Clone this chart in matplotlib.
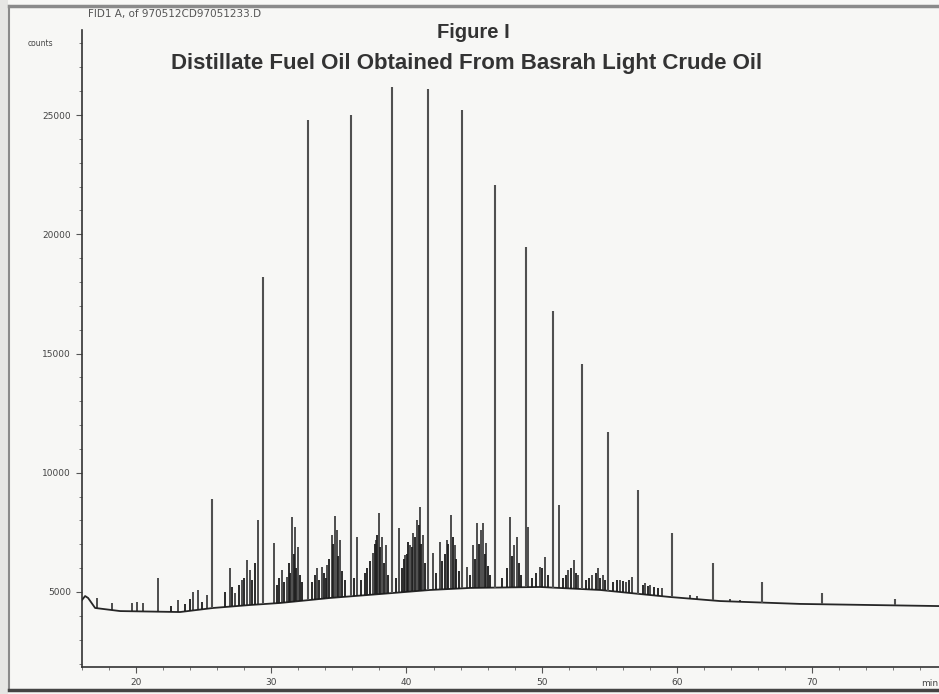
import numpy as np
import matplotlib
matplotlib.use("Agg")
import matplotlib.pyplot as plt
from matplotlib.lines import Line2D
from matplotlib.patches import Rectangle
from matplotlib.ticker import MultipleLocator

# ---------------- data ----------------
# baseline (lower envelope of the trace), time in min, counts
base_t = [16.0, 16.23, 16.45, 16.97, 18.82, 23.25, 25.70, 28.43, 30.65, 34.35,
          38.05, 41.75, 44.70, 49.88, 54.32, 57.28, 59.50, 63.20, 69.11, 79.39]
base_v = [4665, 4830, 4750, 4330, 4200, 4160, 4330, 4455, 4540, 4750,
          4915, 5085, 5170, 5210, 5085, 4915, 4790, 4620, 4500, 4410]

# n-alkane peaks (tall, regularly spaced)
major_t = [25.62, 29.39, 32.72, 35.90, 38.93, 41.60, 44.11, 46.55, 48.85, 50.84,
           52.99, 54.91, 57.13, 59.64, 62.68, 66.30, 70.74, 76.14]
major_v = [8900, 18210, 24790, 25000, 26170, 26090, 25210, 22070, 19470, 16780,
           14560, 11710, 9280, 7470, 6220, 5420, 4960, 4710]

# smaller resolved peaks
minor_t = [17.12, 18.22, 19.70, 20.07, 20.52, 21.63, 23.11, 24.22, 24.59, 25.25,
           26.95, 27.32, 27.84, 28.21, 28.43, 29.02, 30.21, 30.80, 31.17, 31.54,
           31.76, 31.98, 33.39, 33.76, 34.13, 34.50, 34.72, 34.87, 35.09, 36.35,
           37.53, 37.75, 37.97, 38.20, 38.49, 39.45, 39.90, 40.27, 40.49, 40.78,
           41.01, 41.23, 41.97, 42.49, 43.00, 43.30, 43.60, 44.49, 44.93, 45.22,
           45.52, 45.67, 45.89, 47.66, 47.96, 48.18, 49.00, 49.88, 50.25, 51.28,
           51.95, 52.40, 52.69, 53.73, 54.18, 54.54, 55.80, 56.24, 56.69, 57.65,
           58.02, 58.90, 60.98, 61.50, 63.95, 64.70]
minor_v = [4750, 4540, 4540, 4560, 4540, 5590, 4660, 5000, 5080, 4870,
           6010, 4960, 5500, 6340, 5920, 8020, 7050, 5920, 5630, 8140,
           7730, 6890, 6010, 6050, 6130, 7390, 8190, 7600, 7180, 7310,
           6640, 7180, 8310, 7310, 6980, 7680, 6550, 6980, 7470, 8020,
           8560, 7390, 6640, 7100, 7180, 8230, 6980, 6050, 6980, 7890,
           7600, 7890, 7050, 8140, 6980, 7310, 7730, 6050, 6470, 8650,
           5920, 6340, 5710, 5710, 6010, 5710, 5500, 5420, 5630, 5380,
           5290, 5170, 4870, 4830, 4700, 4680]

# unresolved cluster (dense small peaks)
cluster_t = [22.6, 23.6, 24.0, 24.9, 26.6, 27.1, 27.6, 28.0, 28.6, 28.8,
             30.4, 30.6, 30.95, 31.3, 31.4, 31.65, 31.85, 32.1, 32.3,
             33.0, 33.2, 33.55, 33.9, 34.05, 34.3, 34.6, 34.95, 35.2, 35.45,
             36.1, 36.6, 36.9, 37.1, 37.3, 37.65, 37.85, 38.05, 38.35, 38.6,
             39.2, 39.65, 39.8, 40.05, 40.15, 40.4, 40.6, 40.9, 41.1, 41.35,
             42.2, 42.65, 42.85, 43.1, 43.45, 43.7, 43.85,
             44.7, 45.05, 45.35, 45.8, 46.0, 46.2,
             47.1, 47.4, 47.8, 48.3, 48.5,
             49.3, 49.6, 50.0, 50.45,
             51.6, 51.8, 52.2, 52.55,
             53.3, 53.5, 54.0, 54.35, 54.7,
             55.3, 55.6, 56.0, 56.45,
             57.5, 57.85, 58.3, 58.6]
cluster_v = [4400, 4500, 4700, 4600, 5000, 5200, 5300, 5600, 5500, 6200,
             5300, 5600, 5400, 6200, 5800, 6600, 6000, 5700, 5400,
             5400, 5700, 5500, 5800, 5600, 6400, 7000, 6500, 5900, 5500,
             5600, 5500, 5800, 6000, 6300, 7000, 7400, 6900, 6200, 5700,
             5600, 6000, 6400, 6600, 7100, 6900, 7300, 7800, 7000, 6200,
             5800, 6300, 6600, 7000, 7300, 6400, 5900,
             5700, 6400, 7000, 6600, 6100, 5700,
             5600, 6000, 6500, 6200, 5700,
             5600, 5800, 6000, 5700,
             5600, 5700, 6000, 5800,
             5500, 5600, 5800, 5600, 5500,
             5400, 5500, 5450, 5500,
             5300, 5250, 5200, 5150]

y_ticks = [5000, 10000, 15000, 20000, 25000]
x_ticks = [20, 30, 40, 50, 60, 70]

header = "FID1 A, of 970512CD97051233.D"
title1 = "Figure I"
title2 = "Distillate Fuel Oil Obtained From Basrah Light Crude Oil"

# ---------------- figure ----------------
W, H = 939, 694
fig = plt.figure(figsize=(W / 100, H / 100), dpi=100)
bg = "#f7f7f5"
fig.patch.set_facecolor(bg)

def fx(x):
    return x / W

def fy(y):
    return 1 - y / H

ax = fig.add_axes([fx(82), fy(667), 1 - fx(82), fy(30) - fy(667)])
ax.set_facecolor(bg)
ax.set_xlim(16.0, 79.39)
ax.set_ylim(1855, 28565)

trace_col = "#262626"
ax.plot(base_t, base_v, color=trace_col, lw=1.3, zorder=3)

def base_at(t):
    return np.interp(t, base_t, base_v)

ct = np.array(cluster_t)
ax.vlines(ct, base_at(ct), cluster_v, color="#1a1a1a", lw=1.3, zorder=3)
mt = np.array(minor_t)
ax.vlines(mt, base_at(mt), minor_v, color="#1f1f1f", lw=1.1, zorder=4)
Mt = np.array(major_t)
ax.vlines(Mt, base_at(Mt), major_v, color="#505050", lw=1.5, zorder=5)

for s in ["top", "right"]:
    ax.spines[s].set_visible(False)
for s in ["left", "bottom"]:
    ax.spines[s].set_color("#333333")
    ax.spines[s].set_linewidth(1.2)

ax.set_yticks(y_ticks)
ax.set_yticklabels([str(v) for v in y_ticks])
ax.yaxis.set_minor_locator(MultipleLocator(1000))
ax.set_xticks(x_ticks)
ax.set_xticklabels([str(v) for v in x_ticks])
ax.xaxis.set_minor_locator(MultipleLocator(2))
ax.tick_params(axis="both", which="major", direction="out", length=4, width=0.8,
               color="#555555", labelsize=6.5, labelcolor="#444444", pad=4)
ax.tick_params(axis="both", which="minor", direction="out", length=2.5, width=0.6,
               color="#666666")
for lab in ax.get_xticklabels() + ax.get_yticklabels():
    lab.set_fontfamily("DejaVu Sans")

# "min" unit label at right end of x axis
fig.text(fx(921), fy(683), "min", fontsize=6.5, color="#444444", ha="left",
         va="center", family="DejaVu Sans")
fig.text(fx(40), fy(43), "counts", fontsize=5.5, color="#444444", ha="center",
         va="center", family="DejaVu Sans")

fig.text(fx(88), fy(14), header, fontsize=7.5, color="#555555", ha="left",
         va="center", family="DejaVu Sans")
fig.text(fx(473), fy(32), title1, fontsize=14.5, fontweight="bold", color="#333333",
         ha="center", va="center", family="Liberation Sans")
fig.text(fx(467), fy(63), title2, fontsize=16, fontweight="bold", color="#333333",
         ha="center", va="center", family="Liberation Sans")

# scanned page frame
fig.add_artist(Rectangle((0, 0), fx(8), 1, transform=fig.transFigure,
                         facecolor="#e6e6e4", edgecolor="none", zorder=0))
fig.add_artist(Line2D([fx(9), 1], [fy(6), fy(6)], transform=fig.transFigure,
                      color="#8a8a8a", lw=2.5))
fig.add_artist(Line2D([fx(9), fx(9)], [fy(690), fy(6)], transform=fig.transFigure,
                      color="#8a8a8a", lw=1.5))
fig.add_artist(Line2D([fx(9), 1], [fy(690), fy(690)], transform=fig.transFigure,
                      color="#444444", lw=2.5))

fig.savefig("out.png", dpi=100, facecolor=fig.get_facecolor())
